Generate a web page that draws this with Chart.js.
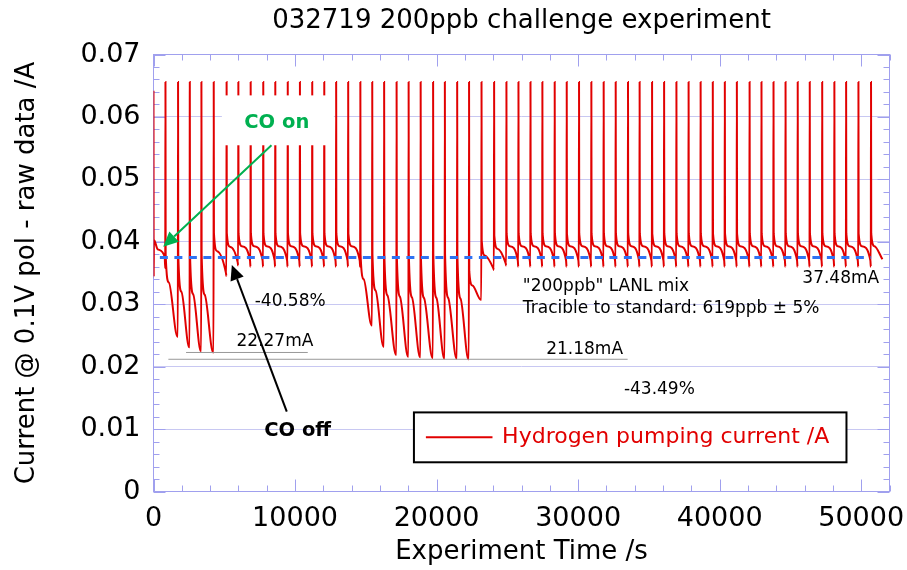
<!DOCTYPE html>
<html>
<head>
<meta charset="utf-8">
<script src="https://cdn.jsdelivr.net/npm/chart.js@4.4.1/dist/chart.umd.min.js"></script>
<style>
  html, body { margin: 0; padding: 0; background: #fff; }
  #wrap { width: 907px; height: 570px; }
</style>
</head>
<body>
<div id="wrap"><canvas id="chart" width="907" height="570"></canvas></div>
<script>
// ---- Hydrogen pumping current, 0.1 V polarisation, raw data ----
// Times (s) at which each current pulse fires.
const spikeTimes = [
  830, 1720, 2550, 3370, 4240, 5150, 5980, 6850, 7740, 8590,
  9470, 10330, 11200, 12050, 12890, 13740, 14600, 15440, 16280, 17160,
  18010, 18860, 19740, 20570, 21440, 22280, 23160, 24050, 24920, 25770,
  26620, 27460, 28330, 29180, 30050, 30920, 31790, 32640, 33510, 34330,
  35210, 36060, 36930, 37790, 38640, 39500, 40350, 41200, 42100, 42940,
  43790, 44640, 45500, 46350, 47230, 48090, 48920, 49790, 50680
];
// Current (A) at the foot of each pulse.
const footLevel = [
  0.0358, 0.0248, 0.0231, 0.0225, 0.02227, 0.0345, 0.0362, 0.0360, 0.0360, 0.0360,
  0.0360, 0.0360, 0.0360, 0.0360, 0.0360, 0.0360, 0.0360, 0.0266, 0.0232, 0.0219,
  0.0216, 0.0215, 0.0214, 0.0213, 0.0213, 0.02118, 0.0307, 0.0355, 0.0362, 0.0360,
  0.0360, 0.0360, 0.0360, 0.0360, 0.0360, 0.0360, 0.0360, 0.0360, 0.0360, 0.0360,
  0.0360, 0.0360, 0.0360, 0.0360, 0.0360, 0.0360, 0.0360, 0.0360, 0.0360, 0.0360,
  0.0360, 0.0360, 0.0360, 0.0360, 0.0360, 0.0360, 0.0360, 0.0360, 0.0360
];
// Current right after each pulse, part way through the decay, and at the end of the decay.
const restartLevel = [
  0.0380, 0.0380, 0.0380, 0.0380, 0.0414, 0.0414, 0.0413, 0.0413, 0.0413, 0.0413,
  0.0413, 0.0413, 0.0413, 0.0413, 0.0413, 0.0413, 0.0380, 0.0380, 0.0380, 0.0380,
  0.0380, 0.0380, 0.0380, 0.0380, 0.0380, 0.0353, 0.0402, 0.0410, 0.0413, 0.0413,
  0.0413, 0.0413, 0.0413, 0.0413, 0.0413, 0.0413, 0.0413, 0.0413, 0.0413, 0.0413,
  0.0413, 0.0413, 0.0413, 0.0413, 0.0413, 0.0413, 0.0413, 0.0413, 0.0413, 0.0413,
  0.0413, 0.0413, 0.0413, 0.0413, 0.0413, 0.0413, 0.0413, 0.0413, 0.0413
];
const midLevel = [
  0.0335, 0.0320, 0.0316, 0.0315, 0.0385, 0.0392, 0.0393, 0.0393, 0.0393, 0.0393,
  0.0393, 0.0393, 0.0393, 0.0393, 0.0393, 0.0393, 0.0340, 0.0322, 0.0314, 0.0312,
  0.0311, 0.0310, 0.0310, 0.0310, 0.0309, 0.0330, 0.0378, 0.0389, 0.0393, 0.0393,
  0.0393, 0.0393, 0.0393, 0.0393, 0.0393, 0.0393, 0.0393, 0.0393, 0.0393, 0.0393,
  0.0393, 0.0393, 0.0393, 0.0393, 0.0393, 0.0393, 0.0393, 0.0393, 0.0393, 0.0393,
  0.0393, 0.0393, 0.0393, 0.0393, 0.0393, 0.0393, 0.0393, 0.0393, 0.0393
];
const endLevel = [
  0.0248, 0.0231, 0.0225, 0.02227, 0.0350, 0.0367, 0.0370, 0.0370, 0.0370, 0.0370,
  0.0370, 0.0370, 0.0370, 0.0370, 0.0370, 0.0370, 0.0266, 0.0232, 0.0219, 0.0216,
  0.0215, 0.0214, 0.0213, 0.0213, 0.02118, 0.0307, 0.0357, 0.0365, 0.0370, 0.0370,
  0.0370, 0.0370, 0.0370, 0.0370, 0.0370, 0.0370, 0.0370, 0.0370, 0.0370, 0.0370,
  0.0370, 0.0370, 0.0370, 0.0370, 0.0370, 0.0370, 0.0370, 0.0370, 0.0370, 0.0370,
  0.0370, 0.0370, 0.0370, 0.0370, 0.0370, 0.0370, 0.0370, 0.0370, 0.0372
];
// Pulses saturate at the same top current.
const peakLevel = 0.0656;
// Start of the run, before the first pulse.
const leadTimes = [0, 15, 30, 300, 790];
const leadValues = [0.0642, 0.0344, 0.0403, 0.0388, 0.0376];
const runEndTime = 51500;

// Reference levels (A) and the time spans they are drawn over (s).
const baselineLevel = 0.03748;
const baselineSpan = [450, 50700];
const firstMinLevel = 0.02227;
const firstMinSpan = [2300, 10900];
const secondMinLevel = 0.02118;
const secondMinSpan = [1050, 33500];

// Axis ticks.
const xTickLabels = [0, 10000, 20000, 30000, 40000, 50000];
const xMinorStep = 2000, xMax = 52000;
const yTickStep = 0.01, yMinorStep = 0.002, yMax = 0.07;

// Build the pulse train.
const current = leadTimes.map((t, i) => ({ x: t, y: leadValues[i] }));
spikeTimes.forEach((t, i) => {
  const next = i + 1 < spikeTimes.length ? spikeTimes[i + 1] - 30 : runEndTime;
  current.push(
    { x: t, y: footLevel[i] },
    { x: t + 15, y: peakLevel },
    { x: t + 30, y: restartLevel[i] },
    { x: t + 250, y: midLevel[i] },
    { x: next, y: endLevel[i] }
  );
});

const FONT = '"DejaVu Sans", Verdana, sans-serif';
const RED = '#e10000';
const AXIS = '#a0a0ee';

function drawArrow(ctx, x1, y1, x2, y2, color, head, half) {
  const ang = Math.atan2(y2 - y1, x2 - x1);
  const bx = x2 - head * Math.cos(ang), by = y2 - head * Math.sin(ang);
  ctx.strokeStyle = color; ctx.fillStyle = color; ctx.lineWidth = 2;
  ctx.beginPath(); ctx.moveTo(x1, y1); ctx.lineTo(bx, by); ctx.stroke();
  ctx.beginPath();
  ctx.moveTo(x2, y2);
  ctx.lineTo(bx + half * Math.sin(ang), by - half * Math.cos(ang));
  ctx.lineTo(bx - half * Math.sin(ang), by + half * Math.cos(ang));
  ctx.closePath(); ctx.fill();
}

// Frame with inward ticks on all four sides.
const framePlugin = {
  id: 'frame',
  beforeDatasetsDraw(chart) {
    const { ctx, chartArea: a, scales: { x, y } } = chart;
    ctx.save();
    ctx.strokeStyle = AXIS; ctx.lineWidth = 1;
    ctx.strokeRect(a.left, a.top, a.right - a.left, a.bottom - a.top);
    ctx.beginPath();
    for (let k = 0; k * xMinorStep <= xMax; k++) {
      const t = k * xMinorStep;
      const px = Math.round(x.getPixelForValue(t)) + 0.5;
      const len = xTickLabels.includes(t) ? 12 : 6;
      ctx.moveTo(px, a.bottom); ctx.lineTo(px, a.bottom - len);
      ctx.moveTo(px, a.top); ctx.lineTo(px, a.top + len);
    }
    const nY = Math.round(yMax / yMinorStep);
    for (let k = 0; k <= nY; k++) {
      const py = Math.round(y.getPixelForValue(k * yMinorStep)) + 0.5;
      const len = k % 5 === 0 ? 12 : 6;
      ctx.moveTo(a.left, py); ctx.lineTo(a.left + len, py);
      ctx.moveTo(a.right, py); ctx.lineTo(a.right - len, py);
    }
    ctx.stroke();
    ctx.restore();
  }
};

// Notes, arrows and legend over the data.
const notesPlugin = {
  id: 'notes',
  afterDatasetsDraw(chart) {
    const { ctx, scales: { x, y } } = chart;
    const X = t => x.getPixelForValue(t);
    const Y = v => y.getPixelForValue(v);
    ctx.save();

    // "CO on" label box
    ctx.fillStyle = '#fff';
    ctx.fillRect(X(4830), Y(0.06345), X(12740) - X(4830), Y(0.05546) - Y(0.06345));
    ctx.textBaseline = 'middle';
    ctx.textAlign = 'center';
    ctx.font = 'bold 19.5px ' + FONT;
    ctx.fillStyle = '#00b050';
    ctx.fillText('CO on', X(8710), Y(0.0591));
    ctx.fillStyle = '#000';
    ctx.fillText('CO off', X(10190), Y(0.00975));

    drawArrow(ctx, X(8335), Y(0.05546), X(685), Y(0.0392), '#00b050', 15, 7);
    drawArrow(ctx, X(9415), Y(0.01279), X(5535), Y(0.03628), '#000', 15, 7);

    ctx.font = '17px ' + FONT;
    ctx.fillStyle = '#000';
    ctx.textAlign = 'left';
    ctx.fillText('-40.58%', X(7150), Y(0.0304));
    ctx.fillText((firstMinLevel * 1000).toFixed(2) + 'mA', X(5865), Y(0.0240));
    ctx.fillText((secondMinLevel * 1000).toFixed(2) + 'mA', X(27745), Y(0.0227));
    ctx.fillText('"200ppb" LANL mix', X(26095), Y(0.0328));
    ctx.fillText('Tracible to standard: 619ppb \u00b1 5%', X(26095), Y(0.02935));
    ctx.textAlign = 'right';
    ctx.fillText((baselineLevel * 1000).toFixed(2) + 'mA', X(51270), Y(0.03415));
    ctx.textAlign = 'center';
    ctx.fillText('-43.49%', X(35740), Y(0.0163));

    // legend
    const ds = chart.data.datasets[0];
    const lx1 = X(18400), lx2 = X(48960), ly1 = Y(0.01267), ly2 = Y(0.00468);
    ctx.fillStyle = '#fff';
    ctx.fillRect(lx1, ly1, lx2 - lx1, ly2 - ly1);
    ctx.strokeStyle = '#000'; ctx.lineWidth = 2;
    ctx.strokeRect(lx1, ly1, lx2 - lx1, ly2 - ly1);
    const ly = Y(0.00868);
    ctx.strokeStyle = ds.borderColor; ctx.lineWidth = 2;
    ctx.beginPath(); ctx.moveTo(X(19245), ly); ctx.lineTo(X(23950), ly); ctx.stroke();
    ctx.font = '22px ' + FONT;
    ctx.fillStyle = ds.borderColor;
    ctx.textAlign = 'left';
    ctx.fillText(ds.label, X(24630), ly);
    ctx.restore();
  }
};

new Chart(document.getElementById('chart'), {
  type: 'line',
  data: {
    datasets: [
      {
        label: 'Hydrogen pumping current /A',
        data: current,
        borderColor: RED,
        borderWidth: 2,
        pointRadius: 0,
        cubicInterpolationMode: 'monotone',
        fill: false,
        order: 3
      },
      {
        label: 'baseline',
        data: [{ x: baselineSpan[0], y: baselineLevel }, { x: baselineSpan[1], y: baselineLevel }],
        borderColor: '#2f72f2',
        borderWidth: 3,
        borderDash: [8, 6.5],
        pointRadius: 0,
        order: 1
      },
      {
        label: 'first minimum',
        data: [{ x: firstMinSpan[0], y: firstMinLevel }, { x: firstMinSpan[1], y: firstMinLevel }],
        borderColor: '#999',
        borderWidth: 1,
        pointRadius: 0,
        order: 2
      },
      {
        label: 'second minimum',
        data: [{ x: secondMinSpan[0], y: secondMinLevel }, { x: secondMinSpan[1], y: secondMinLevel }],
        borderColor: '#999',
        borderWidth: 1,
        pointRadius: 0,
        order: 2
      }
    ]
  },
  options: {
    responsive: false,
    animation: false,
    devicePixelRatio: 1,
    events: [],
    layout: { padding: { left: 0, right: 17.5, top: 0, bottom: 0 } },
    plugins: {
      legend: { display: false },
      tooltip: { enabled: false },
      title: {
        display: true,
        text: '032719 200ppb challenge experiment',
        fullSize: false,
        color: '#000',
        font: { family: FONT, size: 26, weight: 'normal' },
        padding: { top: 6, bottom: 17.3 }
      }
    },
    scales: {
      x: {
        type: 'linear',
        min: 0,
        max: xMax,
        grid: { display: false, drawTicks: false },
        border: { display: false },
        afterBuildTicks(s) { s.ticks = xTickLabels.map(v => ({ value: v })); },
        ticks: {
          autoSkip: false,
          maxRotation: 0,
          padding: 11,
          color: '#000',
          font: { family: FONT, size: 27 },
          callback: v => String(v)
        },
        title: {
          display: true,
          text: 'Experiment Time /s',
          color: '#000',
          font: { family: FONT, size: 26 },
          padding: { top: 0, bottom: 2 }
        },
        afterFit(s) { s.height = 78.5; s.paddingLeft = 0; s.paddingRight = 0; }
      },
      y: {
        min: 0,
        max: yMax,
        grid: { color: '#c8c8f2', lineWidth: 1, drawTicks: false },
        border: { display: false },
        ticks: {
          stepSize: yTickStep,
          padding: 13,
          color: '#000',
          font: { family: FONT, size: 27 },
          callback: v => (v === 0 ? '0' : v.toFixed(2))
        },
        title: {
          display: true,
          text: 'Current @ 0.1V pol - raw data /A',
          color: '#000',
          font: { family: FONT, size: 26 },
          padding: { top: 12, bottom: 0 }
        },
        afterFit(s) { s.width = 153.5; s.paddingTop = 0; s.paddingBottom = 0; }
      }
    }
  },
  plugins: [framePlugin, notesPlugin]
});
</script>
</body>
</html>
